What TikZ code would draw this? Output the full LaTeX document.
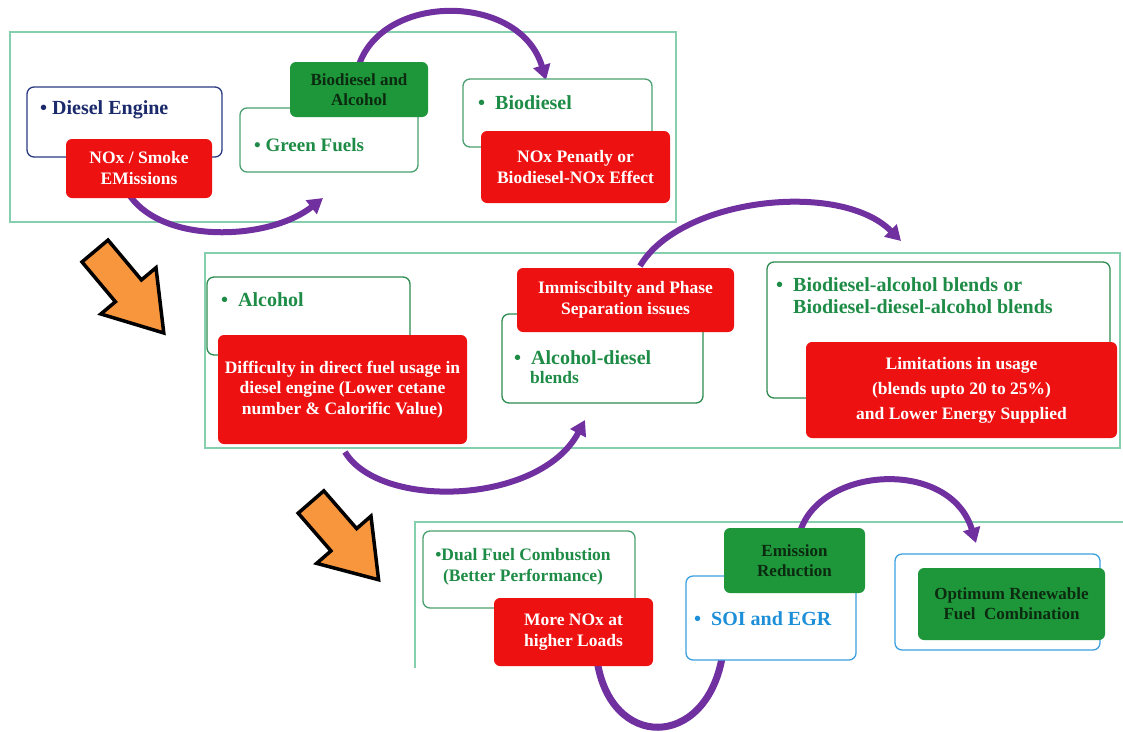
\documentclass[tikz,border=0pt]{standalone}
\usepackage{fontspec}
\setmainfont{Liberation Serif}
\usetikzlibrary{arrows.meta}
\definecolor{framegreen}{HTML}{86CFAE}
\definecolor{navy}{HTML}{1B2A6B}
\definecolor{navyline}{HTML}{2B3A80}
\definecolor{txtgreen}{HTML}{1E8C46}
\definecolor{lgreen}{HTML}{4AA070}
\definecolor{dgreen}{HTML}{2E8B50}
\definecolor{boxred}{HTML}{EE1111}
\definecolor{boxgreen}{HTML}{1E963A}
\definecolor{arcpurple}{HTML}{7030A0}
\definecolor{lblue}{HTML}{3AA0E0}
\definecolor{txtblue}{HTML}{1C8FD8}
\definecolor{orangefill}{HTML}{F8963E}
\definecolor{darktxt}{HTML}{0B2A10}
\begin{document}
\begin{tikzpicture}[x=1pt,y=-1pt,
  frameline/.style={draw=framegreen, line width=1.2pt},
  wbox/.style={draw=#1, fill=white, rounded corners=7pt, line width=1.3pt, inner sep=0pt},
  redbox/.style={fill=boxred, rounded corners=6pt, text=white, align=center, inner sep=0pt, font=\bfseries\fontsize{17.5}{21}\selectfont},
  gbox/.style={fill=boxgreen, rounded corners=6pt, text=darktxt, align=center, inner sep=0pt, font=\bfseries\fontsize{17}{20}\selectfont},
  btext/.style={anchor=west, inner sep=0pt, font=\bfseries\fontsize{20}{22}\selectfont},
  arc/.style={draw=arcpurple, line width=6pt, -{Triangle[length=15pt,width=17pt]}},
  bigarrow/.style={fill=orangefill, draw=black, line width=3.5pt, line join=miter}
]
\useasboundingbox (0,0) rectangle (1123,731);

% frames
\draw[frameline] (10,32) rectangle (676,222);
\draw[frameline] (205,253) rectangle (1120,448);
\draw[frameline] (415,668) -- (415,522) -- (1123,522);

% arc end points
\coordinate (a1s) at (130,196);
\coordinate (a1e) at (323,198);
\coordinate (a2s) at (358,68);
\coordinate (a2e) at (546,80);
\coordinate (a3s) at (640,266);
\coordinate (a3e) at (901,241);
\coordinate (a4s) at (345,452);
\coordinate (a4e) at (585,420);
\coordinate (a5s) at (597,660);
\coordinate (a5e) at (722,658);
\coordinate (a6s) at (800,532);
\coordinate (a6e) at (976,543);

\draw[arc] (a1s) .. controls (165,245) and (270,240) .. (a1e);
\draw[arc] (a2s) .. controls (380,-8) and (520,-8) .. (a2e);
\draw[arc] (a3s) .. controls (680,198) and (840,180) .. (a3e);
\draw[arc] (a4s) .. controls (380,510) and (540,505) .. (a4e);
\draw[draw=arcpurple, line width=7pt] (a5s) .. controls (610,750) and (705,750) .. (a5e);
\draw[arc] (a6s) .. controls (820,466) and (950,458) .. (a6e);

% orange arrows
\begin{scope}[shift={(95,251)}, rotate=-50]
  \draw[bigarrow] (0,-17) -- (52,-17) -- (52,-36) -- (107,0) -- (52,36) -- (52,17) -- (0,17) -- cycle;
\end{scope}
\begin{scope}[shift={(311,502)}, rotate=-49]
  \draw[bigarrow] (0,-17) -- (50,-17) -- (50,-36) -- (103,0) -- (50,36) -- (50,17) -- (0,17) -- cycle;
\end{scope}

% ---------- top row ----------
\node[wbox=navyline, minimum width=195pt, minimum height=70pt] (de) at (124.5,122) {};
\node[btext, text=navy] (det) at (40,110) {•\ Diesel Engine};
\node[redbox, minimum width=146pt, minimum height=59pt] (nox) at (139,168.5) {NOx / Smoke\\EMissions};

\node[wbox=lgreen, minimum width=178pt, minimum height=64pt] (gf) at (329,140) {};
\node[btext, text=txtgreen, font=\bfseries\fontsize{19}{22}\selectfont] (gft) at (254,145) {•\ Green Fuels};
\node[gbox, minimum width=138pt, minimum height=55pt] (ba) at (359,89.5) {Biodiesel and\\Alcohol};

\node[wbox=lgreen, minimum width=189pt, minimum height=68pt] (bd) at (557.5,113) {};
\node[btext, text=txtgreen] (bdt) at (478,103) {•\ \ Biodiesel};
\node[redbox, minimum width=189pt, minimum height=72pt] (np) at (575.5,167) {NOx Penatly or\\Biodiesel-NOx Effect};

% ---------- middle row ----------
\node[wbox=dgreen, minimum width=203pt, minimum height=78pt] (al) at (308.5,316) {};
\node[btext, text=txtgreen] (alt) at (221,300) {•\ \ Alcohol};
\node[redbox, minimum width=249pt, minimum height=109pt, font=\bfseries\fontsize{17.5}{20.5}\selectfont] (df) at (342.5,389.5) {Difficulty in direct fuel usage in\\diesel engine (Lower cetane\\number \& Calorific Value)};

\node[wbox=dgreen, minimum width=201pt, minimum height=89pt] (ad) at (602.5,358.5) {};
\node[btext, text=txtgreen, align=left] (adt) at (514,367) {•\ \ Alcohol-diesel\\[-3pt]\hspace*{16pt}{\fontsize{17.5}{20}\selectfont blends}};
\node[redbox, minimum width=217pt, minimum height=64pt] (im) at (625.5,300) {Immiscibilty and Phase\\Separation issues};

\node[wbox=dgreen, minimum width=343pt, minimum height=136pt] (bb) at (938.5,330) {};
\node[btext, text=txtgreen, align=left] (bbt) at (776,296) {•\ \ Biodiesel-alcohol blends or\\\hspace*{17pt}Biodiesel-diesel-alcohol blends};
\node[redbox, minimum width=311pt, minimum height=96pt, font=\bfseries\fontsize{17.5}{25}\selectfont] (lim) at (961.5,390) {Limitations in usage\\(blends upto 20 to 25\%)\\and Lower Energy Supplied};

% ---------- bottom row ----------
\node[wbox=lgreen, minimum width=212pt, minimum height=77pt] (dfc) at (529,569.5) {};
\node[inner sep=0pt, text=txtgreen, align=center, font=\bfseries\fontsize{17.5}{21}\selectfont] (dfct) at (523,567) {•Dual Fuel Combustion\\(Better Performance)};
\node[redbox, minimum width=159pt, minimum height=68pt] (mn) at (573.5,632) {More NOx at\\higher Loads};

\node[wbox=lblue, minimum width=170pt, minimum height=84pt] (soi) at (771,618) {};
\node[btext, text=txtblue] (soit) at (694,619) {•\ \ SOI and EGR};
\node[gbox, minimum width=141pt, minimum height=65pt] (er) at (794.5,560.5) {Emission\\Reduction};

\node[wbox=lblue, minimum width=205pt, minimum height=96pt] (opb) at (997.5,602) {};
\node[gbox, minimum width=187pt, minimum height=72pt] (op) at (1011.5,604) {Optimum Renewable\\Fuel\ \ Combination};
\end{tikzpicture}
\end{document}
